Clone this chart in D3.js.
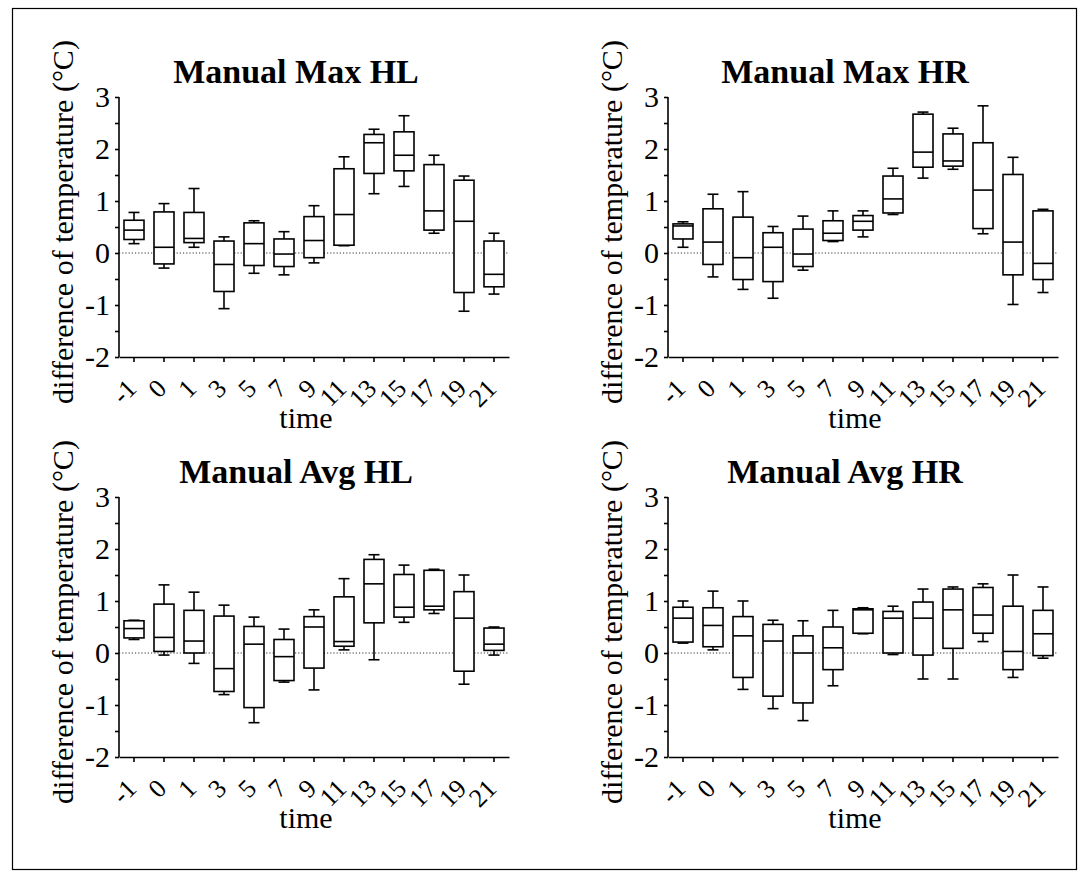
<!DOCTYPE html>
<html lang="en">
<head>
  <meta charset="UTF-8">
  <title>Manual temperature difference</title>
  <script src="https://cdn.jsdelivr.net/npm/d3@7/dist/d3.min.js"></script>
  <style>
    body { margin: 0; padding: 0; background: #fff; }
    text { font-family: "Liberation Serif", "Times New Roman", serif; }
  </style>
</head>
<body>
  <div id="root"></div>
  <script>
    // categories on the x axis (time)
    const times = ['-1', '0', '1', '3', '5', '7', '9', '11', '13', '15', '17', '19', '21'];
    const yTicks = [-2, -1, 0, 1, 2, 3];

    // each row: [whisker low, q1, median, q3, whisker high]
    const maxHL = [
      [0.18, 0.26, 0.44, 0.63, 0.78],
      [-0.29, -0.21, 0.11, 0.79, 0.95],
      [0.11, 0.20, 0.28, 0.78, 1.24],
      [-1.07, -0.74, -0.22, 0.23, 0.31],
      [-0.39, -0.24, 0.18, 0.58, 0.62],
      [-0.42, -0.26, -0.02, 0.27, 0.41],
      [-0.19, -0.09, 0.24, 0.70, 0.91],
      [0.14, 0.15, 0.74, 1.62, 1.85],
      [1.14, 1.53, 2.12, 2.28, 2.38],
      [1.28, 1.58, 1.88, 2.33, 2.64],
      [0.38, 0.44, 0.81, 1.70, 1.88],
      [-1.12, -0.76, 0.61, 1.40, 1.48],
      [-0.79, -0.65, -0.41, 0.23, 0.38]
    ];
    const maxHR = [
      [0.11, 0.27, 0.52, 0.56, 0.60],
      [-0.46, -0.22, 0.21, 0.85, 1.13],
      [-0.70, -0.51, -0.09, 0.69, 1.18],
      [-0.87, -0.55, 0.11, 0.39, 0.51],
      [-0.33, -0.26, -0.02, 0.46, 0.71],
      [0.22, 0.24, 0.38, 0.62, 0.81],
      [0.31, 0.44, 0.61, 0.72, 0.81],
      [0.74, 0.77, 1.04, 1.48, 1.63],
      [1.44, 1.65, 1.94, 2.67, 2.71],
      [1.61, 1.67, 1.77, 2.29, 2.40],
      [0.37, 0.47, 1.21, 2.12, 2.83],
      [-0.99, -0.42, 0.21, 1.51, 1.84],
      [-0.76, -0.51, -0.20, 0.81, 0.84]
    ];
    const avgHL = [
      [0.26, 0.29, 0.47, 0.62, 0.63],
      [-0.04, 0.03, 0.30, 0.94, 1.31],
      [-0.20, 0.00, 0.23, 0.82, 1.17],
      [-0.80, -0.74, -0.30, 0.71, 0.92],
      [-1.34, -1.05, 0.17, 0.51, 0.69],
      [-0.56, -0.53, -0.07, 0.26, 0.46],
      [-0.71, -0.29, 0.50, 0.70, 0.83],
      [0.06, 0.13, 0.22, 1.08, 1.43],
      [-0.13, 0.58, 1.33, 1.80, 1.89],
      [0.59, 0.69, 0.88, 1.51, 1.69],
      [0.76, 0.83, 0.90, 1.59, 1.61],
      [-0.60, -0.35, 0.67, 1.18, 1.50],
      [-0.04, 0.05, 0.17, 0.48, 0.50]
    ];
    const avgHR = [
      [0.19, 0.21, 0.67, 0.88, 1.00],
      [0.06, 0.12, 0.53, 0.87, 1.19],
      [-0.70, -0.47, 0.33, 0.70, 1.00],
      [-1.07, -0.83, 0.23, 0.55, 0.63],
      [-1.30, -0.96, 0.00, 0.33, 0.62],
      [-0.63, -0.32, 0.10, 0.50, 0.82],
      [0.37, 0.38, 0.83, 0.85, 0.87],
      [-0.03, 0.00, 0.67, 0.80, 0.90],
      [-0.50, -0.04, 0.67, 0.98, 1.23],
      [-0.50, 0.09, 0.83, 1.23, 1.27],
      [0.22, 0.38, 0.73, 1.26, 1.33],
      [-0.47, -0.32, 0.03, 0.90, 1.50],
      [-0.10, -0.05, 0.37, 0.82, 1.27]
    ];
    const titles = ['Manual Max HL', 'Manual Max HR', 'Manual Avg HL', 'Manual Avg HR'];
    const panelData = [maxHL, maxHR, avgHL, avgHR];

    const W = 1087, H = 876;
    const plotW = 390, plotH = 260;
    const origins = [[119, 97], [668, 97], [119, 497], [668, 497]];

    const svg = d3.create('svg')
      .attr('width', W)
      .attr('height', H)
      .style('display', 'block')
      .style('background', '#fff');

    // outer frame
    svg.append('rect')
      .attr('x', 12.5).attr('y', 8.5)
      .attr('width', 1064).attr('height', 861)
      .attr('fill', 'none')
      .attr('stroke', '#000')
      .attr('stroke-width', 1.2);

    const x = d3.scaleBand().domain(times).range([0, plotW]);
    const y = d3.scaleLinear().domain([-2, 3]).range([plotH, 0]);
    const boxW = 20, capW = 11;

    panelData.forEach((rows, p) => {
      const [ox, oy] = origins[p];
      const g = svg.append('g').attr('transform', `translate(${ox},${oy})`);
      const cx = t => x(t) + x.bandwidth() / 2;

      // zero reference line
      g.append('line')
        .attr('x1', 0).attr('x2', plotW)
        .attr('y1', y(0)).attr('y2', y(0))
        .attr('stroke', '#333')
        .attr('stroke-width', 1)
        .attr('stroke-dasharray', '1.2,2');

      // y axis: labelled integer ticks + minor half ticks
      const yAxis = d3.axisLeft(y).tickValues(yTicks).tickSize(4).tickPadding(5).tickFormat(d => String(d));
      const ya = g.append('g').call(yAxis);
      ya.select('.domain').attr('d', `M0,${y(3)}V${y(-2)}`);
      ya.selectAll('text').attr('font-size', 30).attr('font-family', '"Liberation Serif", serif').attr('fill', '#000');
      g.append('g').call(d3.axisLeft(y).tickValues(d3.range(-1.5, 3, 1)).tickSize(4).tickFormat(''))
        .select('.domain').remove();

      // x axis
      const xAxis = d3.axisBottom(x).tickSize(5).tickSizeOuter(0);
      const xa = g.append('g').attr('transform', `translate(0,${plotH})`).call(xAxis);
      xa.selectAll('text')
        .attr('font-size', 26)
        .attr('font-family', '"Liberation Serif", serif')
        .attr('fill', '#000')
        .attr('text-anchor', 'end')
        .attr('dy', 0)
        .attr('y', 0)
        .attr('transform', 'translate(4,33) rotate(-45)');
      g.selectAll('.domain, .tick line').attr('stroke', '#000').attr('stroke-width', 1.6);

      // boxes
      const box = g.append('g').selectAll('g')
        .data(rows)
        .enter()
        .append('g')
        .attr('fill', 'none')
        .attr('stroke', '#000')
        .attr('stroke-width', 1.6);

      box.append('line')
        .attr('x1', (d, i) => cx(times[i])).attr('x2', (d, i) => cx(times[i]))
        .attr('y1', d => y(d[4])).attr('y2', d => y(d[3]));
      box.append('line')
        .attr('x1', (d, i) => cx(times[i])).attr('x2', (d, i) => cx(times[i]))
        .attr('y1', d => y(d[1])).attr('y2', d => y(d[0]));
      box.append('line')
        .attr('x1', (d, i) => cx(times[i]) - capW / 2).attr('x2', (d, i) => cx(times[i]) + capW / 2)
        .attr('y1', d => y(d[4])).attr('y2', d => y(d[4]));
      box.append('line')
        .attr('x1', (d, i) => cx(times[i]) - capW / 2).attr('x2', (d, i) => cx(times[i]) + capW / 2)
        .attr('y1', d => y(d[0])).attr('y2', d => y(d[0]));
      box.append('rect')
        .attr('x', (d, i) => cx(times[i]) - boxW / 2)
        .attr('y', d => y(d[3]))
        .attr('width', boxW)
        .attr('height', d => y(d[1]) - y(d[3]))
        .attr('fill', '#fff');
      box.append('line')
        .attr('x1', (d, i) => cx(times[i]) - boxW / 2).attr('x2', (d, i) => cx(times[i]) + boxW / 2)
        .attr('y1', d => y(d[2])).attr('y2', d => y(d[2]));

      // titles and axis labels
      g.append('text')
        .attr('x', plotW / 2 - 18)
        .attr('y', -14)
        .attr('text-anchor', 'middle')
        .attr('font-size', 34)
        .attr('font-weight', 'bold')
        .text(titles[p]);
      g.append('text')
        .attr('x', plotW / 2 - 8)
        .attr('y', plotH + 71)
        .attr('text-anchor', 'middle')
        .attr('font-size', 30)
        .text('time');
      g.append('text')
        .attr('transform', `translate(-46,${plotH / 2 - 5}) rotate(-90)`)
        .attr('text-anchor', 'middle')
        .attr('font-size', 30)
        .text('difference of temperature (°C)');
    });

    document.getElementById('root').append(svg.node());
  </script>
</body>
</html>
